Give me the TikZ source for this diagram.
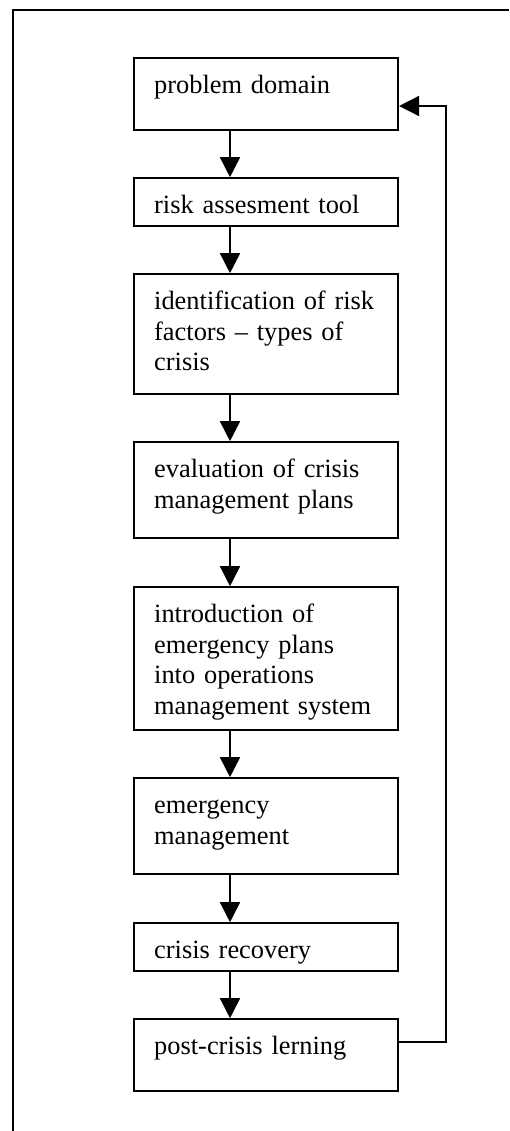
\documentclass[tikz,border=0pt]{standalone}
\usepackage{fontspec}
\setmainfont{Liberation Serif}
\usetikzlibrary{arrows.meta}
\begin{document}
\begin{tikzpicture}[x=1pt,y=-1pt,
  box/.style={draw=black, line width=1.6pt, rectangle, inner sep=0pt, minimum width=264.5pt},
  txt/.style={anchor=base west, inner sep=0pt, text width=240pt, align=left,
    font=\fontsize{26.4}{30.5}\selectfont},
  flow/.style={line width=1.6pt, -{Triangle[width=20pt,length=20pt]}},
  frame/.style={line width=1.6pt}]
\useasboundingbox (0,0) rectangle (509,1131);
% outer frame (only top and left visible)
\coordinate (fbl) at (13,1131);
\coordinate (ftl) at (13,10);
\coordinate (ftr) at (509,10);
\draw[frame] (fbl) -- (ftl) -- (ftr);
% boxes: centre x 266, width 264.5
\node[box, minimum height=72pt]  (b1) at (266,94) {};
\node[box, minimum height=48pt]  (b2) at (266,202) {};
\node[box, minimum height=120pt] (b3) at (266,334) {};
\node[box, minimum height=96pt]  (b4) at (266,490) {};
\node[box, minimum height=143pt] (b5) at (266,658.5) {};
\node[box, minimum height=96pt]  (b6) at (266,826) {};
\node[box, minimum height=48pt]  (b7) at (266,947) {};
\node[box, minimum height=72pt]  (b8) at (266,1055) {};
% texts
\node[txt] (t1) at (154,93.5) {problem domain};
\node[txt] (t2) at (154,213.5) {risk assesment tool};
\node[txt] (t3) at (154,309.5) {identification of risk\\factors -- types of\\crisis};
\node[txt] (t4) at (154,477.5) {evaluation of crisis\\management plans};
\node[txt] (t5) at (154,622.5) {introduction of\\emergency plans\\into operations\\management system};
\node[txt] (t6) at (154,813.5) {emergency\\management};
\node[txt] (t7) at (154,958.5) {crisis recovery};
\node[txt] (t8) at (154,1054.5) {post-crisis lerning};
% arrows at x = 230
\foreach \a/\b in {b1/b2,b2/b3,b3/b4,b4/b5,b5/b6,b6/b7,b7/b8}
  \draw[flow] (\a.south -| 230,0) -- (\b.north -| 230,0);
% feedback loop
\coordinate (lb) at (446,1042);
\coordinate (lt) at (446,106);
\draw[flow] (b8.east |- lb) -- (lb) -- (lt) -- (b1.east |- lt);
\end{tikzpicture}
\end{document}
